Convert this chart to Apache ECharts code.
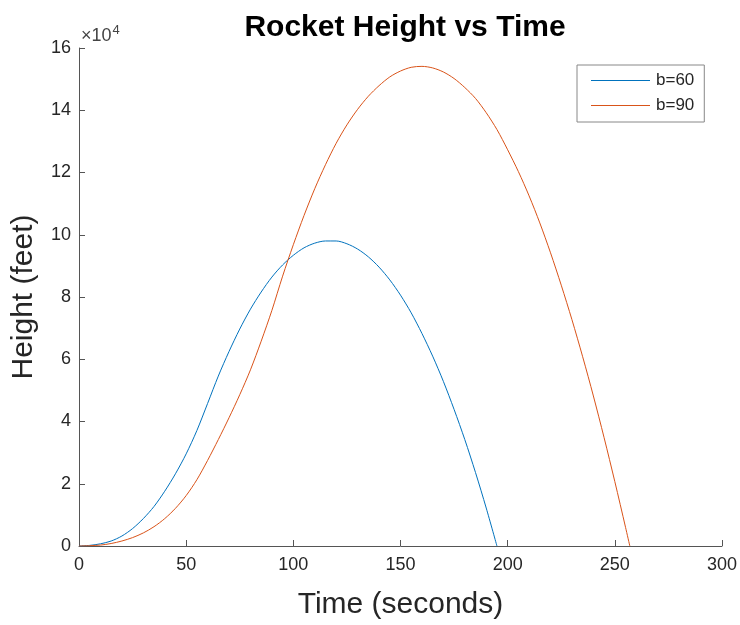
<!DOCTYPE html>
<html>
<head>
<meta charset="utf-8">
<title>Rocket Height vs Time</title>
<script src="https://cdn.jsdelivr.net/npm/echarts@6/dist/echarts.min.js"></script>
<style>
  html, body { margin: 0; padding: 0; background: #fff; }
  #main { width: 740px; height: 625px; }
</style>
</head>
<body>
<div id="main"></div>
<script>
// values, heights in units of 10^4 feet
const timeB60 = [0, 5, 10, 15, 20, 25, 30, 35, 40, 45, 50, 55, 60, 65, 70, 75, 80, 85, 90, 95,
  100, 105, 110, 115, 120, 125, 130, 135, 140, 145, 150, 155, 160, 165, 170, 175, 180, 185, 190, 195];
const heightB60 = [0, 0.02, 0.07, 0.16, 0.32, 0.56, 0.88, 1.27, 1.76, 2.32, 2.96, 3.71, 4.58, 5.46, 6.25, 6.97, 7.61, 8.16, 8.64, 9.03,
  9.34, 9.58, 9.73, 9.80, 9.80, 9.71, 9.54, 9.29, 8.96, 8.55, 8.06, 7.49, 6.83, 6.10, 5.29, 4.39, 3.42, 2.36, 1.22, 0];

const timeB90 = [0, 5, 10, 15, 20, 25, 30, 35, 40, 45, 50, 55, 60, 65, 70, 75, 80, 85, 90, 95,
  100, 105, 110, 115, 120, 125, 130, 135, 140, 145, 150, 155, 160, 165, 170, 175, 180, 185, 190, 195,
  200, 205, 210, 215, 220, 225, 230, 235, 240, 245, 250, 255, 257];
const heightB90 = [0, 0.01, 0.03, 0.08, 0.16, 0.27, 0.42, 0.62, 0.88, 1.21, 1.62, 2.13, 2.75, 3.42, 4.12, 4.86, 5.66, 6.58, 7.57, 8.67,
  9.68, 10.62, 11.48, 12.25, 12.94, 13.53, 14.03, 14.45, 14.79, 15.07, 15.26, 15.38, 15.41, 15.36, 15.23, 15.02, 14.73, 14.38, 13.92, 13.38,
  12.73, 12.03, 11.25, 10.38, 9.42, 8.38, 7.27, 6.08, 4.82, 3.48, 2.07, 0.60, 0];

const seriesNames = ['b=60', 'b=90'];
const seriesColors = ['#0072BD', '#D95319'];

const xTicks = { min: 0, max: 300, interval: 50 };
const yTicks = { min: 0, max: 160000, interval: 20000 };

function pairs(ts, hs) {
  return ts.map((t, i) => [t, hs[i] * 10000]);
}

const chart = echarts.init(document.getElementById('main'), null, { renderer: 'canvas' });

const axisColor = '#555';
const textColor = '#262626';
const font = 'Liberation Sans, Arial, Helvetica, sans-serif';

const option = {
  animation: false,
  textStyle: { fontFamily: font },
  title: {
    text: 'Rocket Height vs Time',
    left: 400,
    textAlign: 'center',
    top: 8,
    textStyle: { fontSize: 30, fontWeight: 'bold', color: '#000', fontFamily: font }
  },
  grid: { left: 79, right: 18, top: 48, bottom: 78 },
  legend: {
    data: seriesNames,
    orient: 'vertical',
    left: 577,
    top: 65,
    padding: [7, 10, 8, 14],
    itemGap: 8,
    itemWidth: 59,
    itemHeight: 1,
    icon: 'rect',
    borderColor: '#888',
    borderWidth: 1,
    backgroundColor: '#fff',
    textStyle: { fontSize: 17, color: textColor, fontFamily: font, padding: [0, 0, 0, 1] }
  },
  graphic: [{
    type: 'text',
    left: 81,
    top: 24,
    style: {
      text: '{a|×10}{b|4}',
      fill: textColor,
      rich: {
        a: { fontSize: 18, fontFamily: font, fill: '#444', verticalAlign: 'bottom' },
        b: { fontSize: 13, fontFamily: font, fill: '#444', verticalAlign: 'top', padding: [0, 0, 8, 1] }
      }
    }
  }],
  xAxis: {
    type: 'value',
    min: xTicks.min,
    max: xTicks.max,
    interval: xTicks.interval,
    name: 'Time (seconds)',
    nameLocation: 'middle',
    nameGap: 44,
    nameTextStyle: { fontSize: 30, color: textColor, fontFamily: font },
    axisLine: { show: true, lineStyle: { color: axisColor, width: 1 } },
    axisTick: { show: true, inside: true, length: 6, lineStyle: { color: axisColor } },
    axisLabel: { fontSize: 18, color: textColor, margin: 10, fontFamily: font },
    splitLine: { show: false }
  },
  yAxis: {
    type: 'value',
    min: yTicks.min,
    max: yTicks.max,
    interval: yTicks.interval,
    name: 'Height (feet)',
    nameLocation: 'middle',
    nameGap: 40,
    nameTextStyle: { fontSize: 30, color: textColor, fontFamily: font },
    axisLine: { show: true, lineStyle: { color: axisColor, width: 1 } },
    axisTick: { show: true, inside: true, length: 6, lineStyle: { color: axisColor } },
    axisLabel: {
      fontSize: 18, color: textColor, margin: 8, fontFamily: font,
      formatter: v => String(v / 10000)
    },
    splitLine: { show: false }
  },
  series: [
    {
      name: seriesNames[0],
      type: 'line',
      data: pairs(timeB60, heightB60),
      smooth: 0.3,
      showSymbol: false,
      lineStyle: { color: seriesColors[0], width: 1 },
      itemStyle: { color: seriesColors[0] }
    },
    {
      name: seriesNames[1],
      type: 'line',
      data: pairs(timeB90, heightB90),
      smooth: 0.3,
      showSymbol: false,
      lineStyle: { color: seriesColors[1], width: 1 },
      itemStyle: { color: seriesColors[1] }
    }
  ]
};

option && chart.setOption(option);
</script>
</body>
</html>
